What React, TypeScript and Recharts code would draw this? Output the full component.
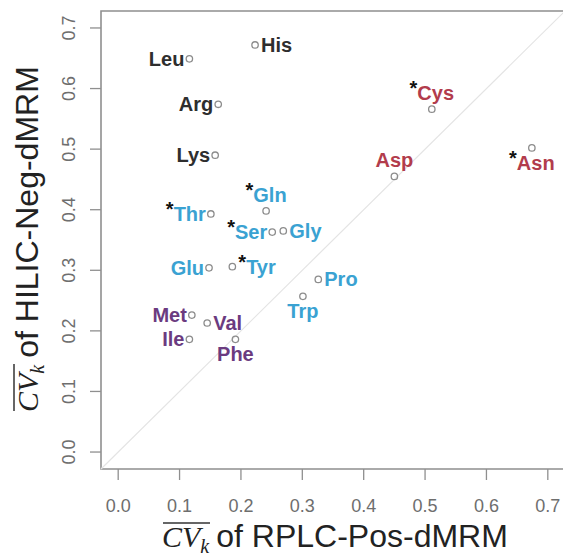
import {
  ReferenceArea,
  ReferenceLine,
  Scatter,
  ScatterChart,
  XAxis,
  YAxis,
} from "recharts";

// amino acids, mean CV on each platform
const aminoAcids = ["Leu", "His", "Arg", "Lys", "Gln", "Thr", "Ser", "Gly", "Glu", "Tyr", "Pro", "Trp", "Met", "Val", "Ile", "Phe", "Cys", "Asp", "Asn"];
const rplcCv = [0.116, 0.223, 0.163, 0.158, 0.241, 0.151, 0.251, 0.269, 0.148, 0.186, 0.326, 0.301, 0.12, 0.145, 0.116, 0.191, 0.511, 0.45, 0.674];
const hilicCv = [0.649, 0.672, 0.574, 0.49, 0.398, 0.393, 0.363, 0.365, 0.304, 0.306, 0.285, 0.257, 0.226, 0.213, 0.186, 0.186, 0.566, 0.455, 0.502];
const groups = ["dark", "dark", "dark", "dark", "blue", "blue", "blue", "blue", "blue", "blue", "blue", "blue", "purple", "purple", "purple", "purple", "red", "red", "red"];
const starred = ["Gln", "Thr", "Ser", "Tyr", "Cys", "Asn"];
const axisTicks = [0, 0.1, 0.2, 0.3, 0.4, 0.5, 0.6, 0.7];

const groupOrder = ["dark", "blue", "purple", "red"];
const groupColors: Record<string, string> = {
  dark: "#2e2e2e",
  blue: "#3aa2d2",
  purple: "#6b3b80",
  red: "#b23c4c",
};

// where each label sits relative to its point
const labelSide: Record<string, string> = {
  Leu: "left", His: "right", Arg: "left", Lys: "left",
  Gln: "above", Thr: "left", Ser: "left", Gly: "right",
  Glu: "left", Tyr: "right", Pro: "right", Trp: "below",
  Met: "left", Val: "right", Ile: "left", Phe: "below",
  Cys: "above", Asp: "above", Asn: "below",
};

const rows = aminoAcids.map((name, i) => ({
  name,
  x: rplcCv[i],
  y: hilicCv[i],
  group: groups[i],
  star: starred.includes(name),
}));

const DOMAIN: [number, number] = [-0.028, 0.728];
const SANS = "'Liberation Sans', Arial, sans-serif";
const SERIF = "'Liberation Serif', 'Times New Roman', serif";
const AXIS_GREY = "#8f8f8f";

function PointWithLabel(props: any) {
  const { cx, cy, payload } = props;
  const side = labelSide[payload.name];
  let tx = cx;
  let ty = cy + 7;
  let anchor: "start" | "middle" | "end" = "middle";
  if (side === "left") {
    tx = cx - 5;
    anchor = "end";
  } else if (side === "right") {
    tx = cx + 6;
    anchor = "start";
  } else if (side === "above") {
    ty = cy - 9;
  } else {
    ty = cy + 22;
  }
  return (
    <g>
      <circle cx={cx} cy={cy} r={3.2} fill="none" stroke="#8c8c8c" strokeWidth={1.3} />
      <text
        x={tx}
        y={ty}
        textAnchor={anchor}
        fontSize={20}
        fontWeight="bold"
        fontFamily={SANS}
        fill={groupColors[payload.group]}
      >
        {payload.star && (
          <tspan fill="#111" dy={-5}>
            *
          </tspan>
        )}
        <tspan dy={payload.star ? 5 : 0}>{payload.name}</tspan>
      </text>
    </g>
  );
}

function XTick({ x, payload }: any) {
  return (
    <text x={x} y={512} textAnchor="middle" fontSize={18} fontFamily={SANS} fill="#6e6e6e">
      {payload.value.toFixed(1)}
    </text>
  );
}

function YTick({ y, payload }: any) {
  return (
    <text
      transform={`translate(75,${y}) rotate(-90)`}
      textAnchor="middle"
      fontSize={18}
      fontFamily={SANS}
      fill="#6e6e6e"
    >
      {payload.value.toFixed(1)}
    </text>
  );
}

function AxisTitle({ rest }: { rest: string }) {
  return (
    <>
      <tspan fontFamily={SERIF} fontStyle="italic" fontSize={30}>
        CV
      </tspan>
      <tspan fontFamily={SERIF} fontStyle="italic" fontSize={20} dy={6}>
        k
      </tspan>
      <tspan fontFamily={SANS} fontSize={32} dy={-6} dx={7}>
        {rest}
      </tspan>
    </>
  );
}

export default function App() {
  return (
    <div style={{ width: 563, height: 556, position: "relative", overflow: "hidden", background: "#fff" }}>
      <style>{"body{margin:0}"}</style>
      <ScatterChart width={566} height={556} margin={{ top: 11, right: 1, bottom: 0, left: 1 }}>
        <XAxis
          type="number"
          dataKey="x"
          domain={DOMAIN}
          ticks={axisTicks}
          allowDataOverflow
          height={87}
          tickSize={11}
          axisLine={false}
          tickLine={{ stroke: AXIS_GREY, strokeWidth: 1.3 }}
          tick={<XTick />}
        />
        <YAxis
          type="number"
          dataKey="y"
          domain={DOMAIN}
          ticks={axisTicks}
          allowDataOverflow
          width={100}
          tickSize={11}
          axisLine={false}
          tickLine={{ stroke: AXIS_GREY, strokeWidth: 1.3 }}
          tick={<YTick />}
        />
        <ReferenceArea
          x1={DOMAIN[0]}
          x2={DOMAIN[1]}
          y1={DOMAIN[0]}
          y2={DOMAIN[1]}
          fill="none"
          fillOpacity={0}
          stroke={AXIS_GREY}
          strokeWidth={1.6}
          ifOverflow="visible"
        />
        <ReferenceLine
          segment={[
            { x: DOMAIN[0], y: DOMAIN[0] },
            { x: DOMAIN[1], y: DOMAIN[1] },
          ]}
          stroke="#e4e4e4"
          strokeWidth={1.2}
          ifOverflow="visible"
        />
        {groupOrder.map((g) => (
          <Scatter
            key={g}
            name={g}
            data={rows.filter((r) => r.group === g)}
            shape={PointWithLabel}
            isAnimationActive={false}
          />
        ))}
      </ScatterChart>
      <svg
        width={563}
        height={556}
        style={{ position: "absolute", left: 0, top: 0, pointerEvents: "none" }}
      >
        <text x={162} y={547} fill="#222">
          <AxisTitle rest="of RPLC-Pos-dMRM" />
        </text>
        <line x1={163} y1={523} x2={210} y2={523} stroke="#333" strokeWidth={1.5} />
        <g transform="translate(38,412) rotate(-90)">
          <text x={0} y={0} fill="#222">
            <AxisTitle rest="of HILIC-Neg-dMRM" />
          </text>
          <line x1={1} y1={-24} x2={48} y2={-24} stroke="#333" strokeWidth={1.5} />
        </g>
      </svg>
    </div>
  );
}
